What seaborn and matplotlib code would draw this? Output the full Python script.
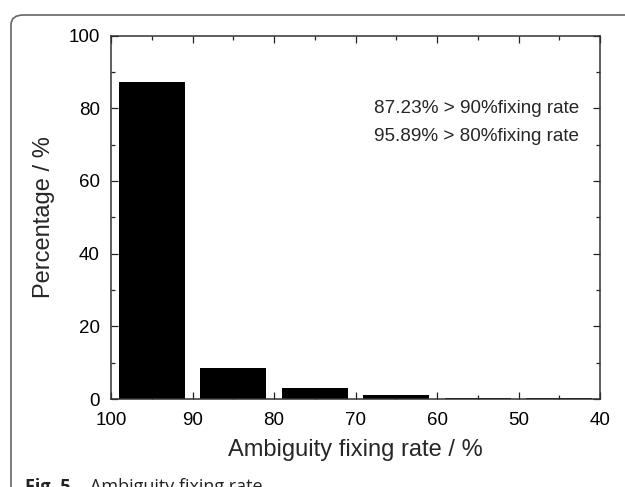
import matplotlib
matplotlib.use("Agg")
import matplotlib.pyplot as plt
import seaborn as sns
import pandas as pd
from matplotlib.patches import FancyBboxPatch
from matplotlib.ticker import MultipleLocator

bin_centers = [95, 85, 75, 65, 55, 45]
percentages = [87.23, 8.66, 2.95, 1.0, 0.3, 0.25]
x_ticks = [100, 90, 80, 70, 60, 50, 40]
y_ticks = [0, 20, 40, 60, 80, 100]
annotation_lines = ["87.23% > 90%fixing rate", "95.89% > 80%fixing rate"]

sns.set_style("white")
plt.rcParams['font.family'] = ['Liberation Sans', 'DejaVu Sans']

df = pd.DataFrame({"rate": bin_centers, "pct": percentages})

fig = plt.figure(figsize=(6.25, 4.87), dpi=100)
left, right, top, bottom = 111 / 625, 600 / 625, 1 - 35.5 / 487, 1 - 399 / 487
ax = fig.add_axes([left, bottom, right - left, top - bottom])

sns.barplot(data=df, x="rate", y="pct", native_scale=True, width=0.81,
            color="black", edgecolor="black", linewidth=0, saturation=1, ax=ax)

ax.set_xlim(100, 40)
ax.set_ylim(0, 100)
ax.set_xticks(x_ticks)
ax.set_yticks(y_ticks)
ax.xaxis.set_minor_locator(MultipleLocator(5))
ax.yaxis.set_minor_locator(MultipleLocator(10))
ax.tick_params(which="both", direction="in", top=True, right=True, bottom=True, left=True,
               labelsize=13.5, colors="#222222", labelcolor="black", width=0.9)
ax.tick_params(which="major", length=5)
ax.tick_params(which="minor", length=3)
ax.tick_params(axis="x", which="major", pad=9.5)
ax.tick_params(axis="y", which="major", pad=8)
for s in ax.spines.values():
    s.set_visible(True)
    s.set_color("#333333")
    s.set_linewidth(1.1)

ax.set_xlabel("Ambiguity fixing rate / %", fontsize=17, labelpad=7)
ax.set_ylabel("Percentage / %", fontsize=17, labelpad=10)

ax.text(0.538, 0.80, annotation_lines[0], transform=ax.transAxes, fontsize=13.6, va="center")
ax.text(0.538, 0.721, annotation_lines[1], transform=ax.transAxes, fontsize=13.6, va="center")

border = FancyBboxPatch((11 / 625, -0.2), 1.2, 1 - 15 / 487 + 0.2,
                        boxstyle="round,pad=0,rounding_size=0.02",
                        transform=fig.transFigure, fill=False,
                        edgecolor="#666666", linewidth=1.2, clip_on=False)
fig.add_artist(border)

fig.text(25 / 625, -5 / 487, "Fig. 5", fontsize=13, fontweight="bold",
         family=["Open Sans", "DejaVu Sans"], va="baseline", color="#222222")
fig.text(90 / 625, -5 / 487, "Ambiguity fixing rate", fontsize=13,
         family=["Open Sans", "DejaVu Sans"], va="baseline", color="#222222")

fig.savefig("out.png", dpi=100)
